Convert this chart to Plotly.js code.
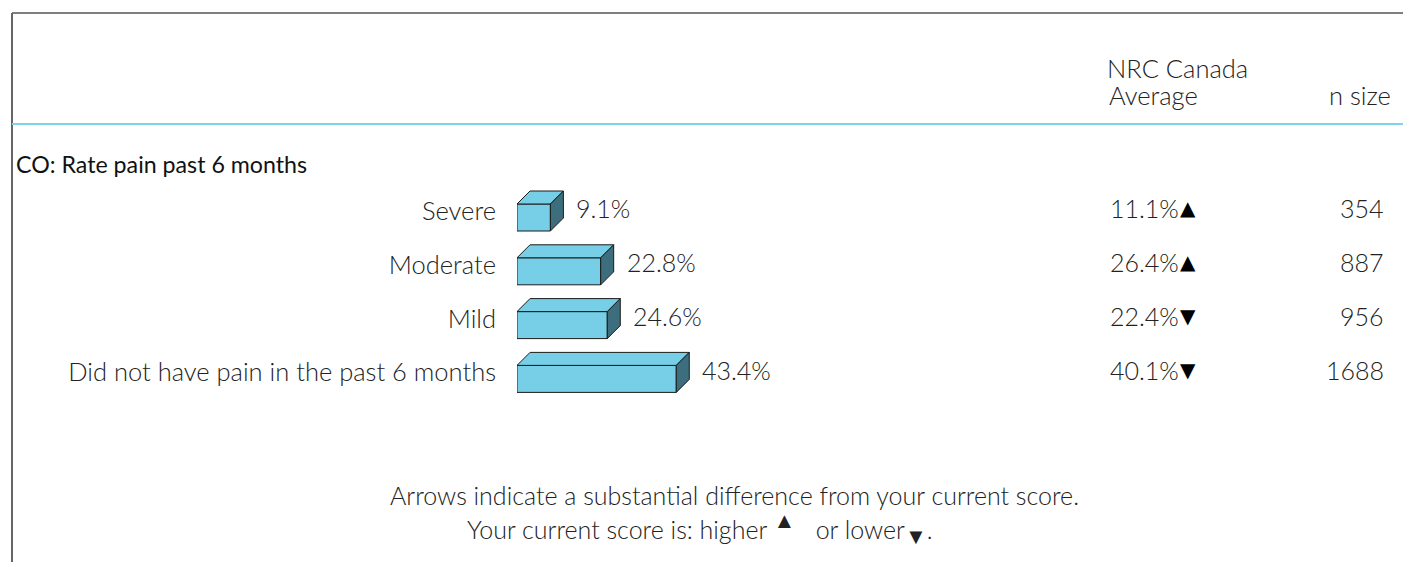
<!DOCTYPE html>
<html>
<head>
<meta charset="utf-8">
<script src="https://cdn.plot.ly/plotly-3.0.1.min.js"></script>
<style>html,body{margin:0;padding:0;background:#fff;}#chart{width:1403px;height:562px;}</style>
</head>
<body>
<div id="chart"></div>
<script>
// ---- data ----
const categories = ['Severe', 'Moderate', 'Mild', 'Did not have pain in the past 6 months'];
const yourScore = [9.1, 22.8, 24.6, 43.4];
const nrcAverage = [11.1, 26.4, 22.4, 40.1];
const nrcArrow = ['▲', '▲', '▼', '▼'];
const nSize = [354, 887, 956, 1688];
const sectionTitle = 'CO: Rate pain past 6 months';
const headerNrc1 = 'NRC Canada';
const headerNrc2 = 'Average';
const headerN = 'n size';
const footnote1 = 'Arrows indicate a substantial difference from your current score.';
const footnote2 = 'Your current score is: higher <sup><span style="font-size:22px">▲</span></sup>\u00a0\u00a0 or lower<sub><span style="font-size:22px">▼</span></sub>.';

// ---- layout constants (pixels) ----
const W = 1403, H = 562;
const X0 = 517, PX_PER = 3.67;
const ROW0 = 211, ROWH = 53.8;
const DEPTH = 13, FRONT_H = 27;
const FONT = 'Lato, "Open Sans", sans-serif';
const TXT = '#222222';

const px = v => v / W;
const py = v => 1 - v / H;
const dx = DEPTH / PX_PER;          // depth in x data units
const dy = DEPTH / ROWH;            // depth in y data units (rows)
const half = (FRONT_H + DEPTH) / 2 / ROWH;
const frontTop = half - dy;
const frontBot = half;

const idx = categories.map((_, i) => i);

// front faces
const front = {
  type: 'bar', orientation: 'h',
  x: yourScore, y: idx,
  base: 0, width: FRONT_H / ROWH, offset: -frontTop,
  marker: {color: '#76CFE6', line: {color: '#1b1b1b', width: 1}},
  hoverinfo: 'skip'
};

// top and side faces as polygons
const topX = [], topY = [], sideX = [], sideY = [];
yourScore.forEach((v, i) => {
  topX.push(0, v, v + dx, dx, 0, null);
  topY.push(i - frontTop, i - frontTop, i - half, i - half, i - frontTop, null);
  sideX.push(v, v + dx, v + dx, v, v, null);
  sideY.push(i - frontTop, i - half, i - half + FRONT_H / ROWH, i + frontBot, i - frontTop, null);
});
const topFace = {
  type: 'scatter', mode: 'lines', x: topX, y: topY, fill: 'toself',
  fillcolor: '#76CFE6', line: {color: '#1b1b1b', width: 1}, hoverinfo: 'skip'
};
const sideFace = {
  type: 'scatter', mode: 'lines', x: sideX, y: sideY, fill: 'toself',
  fillcolor: '#3C6E7D', line: {color: '#1b1b1b', width: 1}, hoverinfo: 'skip'
};

const annotations = [];
const baseFont = (size, weight, color) => ({family: FONT, size: size, color: color || TXT, weight: weight || 300});
const ann = (o) => annotations.push(Object.assign({showarrow: false, font: baseFont(25)}, o));

// value labels next to bars
yourScore.forEach((v, i) => {
  ann({text: v.toFixed(1) + '%', xref: 'x', yref: 'y', x: v + dx, y: i - 0.05, xanchor: 'left', yanchor: 'middle', xshift: 11});
});

// header
ann({text: headerNrc1, xref: 'paper', yref: 'paper', x: px(1105), y: py(68), xanchor: 'left', yanchor: 'middle', font: baseFont(25.5)});
ann({text: headerNrc2, xref: 'paper', yref: 'paper', x: px(1107), y: py(95), xanchor: 'left', yanchor: 'middle', font: baseFont(25.5)});
ann({text: headerN, xref: 'paper', yref: 'paper', x: px(1393), y: py(95), xanchor: 'right', yanchor: 'middle', font: baseFont(25.5)});
// section title
ann({text: sectionTitle, xref: 'paper', yref: 'paper', x: px(14), y: py(164), xanchor: 'left', yanchor: 'middle', font: baseFont(23.2, 400, '#111111')});
// table columns
idx.forEach(i => {
  ann({text: nrcAverage[i].toFixed(1) + '%', xref: 'paper', yref: 'y', x: px(1108), y: i - 0.05, xanchor: 'left', yanchor: 'middle'});
  ann({text: nrcArrow[i], xref: 'paper', yref: 'y', x: px(1178), y: i - 0.05, xanchor: 'left', yanchor: 'middle', font: {family: '"DejaVu Sans"', size: 20, color: '#000'}});
  ann({text: String(nSize[i]), xref: 'paper', yref: 'y', x: px(1386), y: i - 0.05, xanchor: 'right', yanchor: 'middle'});
});
// footnotes
ann({text: footnote1, xref: 'paper', yref: 'paper', x: px(734), y: py(495), xanchor: 'center', yanchor: 'middle', font: baseFont(25)});
ann({text: footnote2, xref: 'paper', yref: 'paper', x: px(465), y: py(527), xanchor: 'left', yanchor: 'middle', font: baseFont(25)});

const shapes = [
  {type: 'line', xref: 'paper', yref: 'paper', x0: px(12), x1: 1, y0: py(13), y1: py(13), line: {color: '#555555', width: 1.5}},
  {type: 'line', xref: 'paper', yref: 'paper', x0: px(12), x1: px(12), y0: 0, y1: py(13), line: {color: '#666666', width: 2}},
  {type: 'line', xref: 'paper', yref: 'paper', x0: px(12), x1: 1, y0: py(124), y1: py(124), line: {color: '#80D4EA', width: 2}}
];

const layout = {
  width: W, height: H,
  margin: {l: 0, r: 0, t: 0, b: 0},
  paper_bgcolor: '#fff', plot_bgcolor: 'rgba(0,0,0,0)',
  showlegend: false, hovermode: false,
  xaxis: {domain: [px(X0), px(X0 + 100 * PX_PER)], range: [0, 100], visible: false, fixedrange: true},
  yaxis: {
    domain: [1 - (ROW0 + 3.5 * ROWH) / H, 1 - (ROW0 - 0.5 * ROWH) / H],
    range: [3.5, -0.5], tickmode: 'array', tickvals: idx, ticktext: categories,
    showgrid: false, zeroline: false, showline: false, ticks: '', ticklabelstandoff: 20,
    tickfont: baseFont(25.5), fixedrange: true
  },
  annotations: annotations,
  shapes: shapes
};

Plotly.newPlot('chart', [front, topFace, sideFace], layout, {displayModeBar: false, staticPlot: true});
</script>
</body>
</html>
